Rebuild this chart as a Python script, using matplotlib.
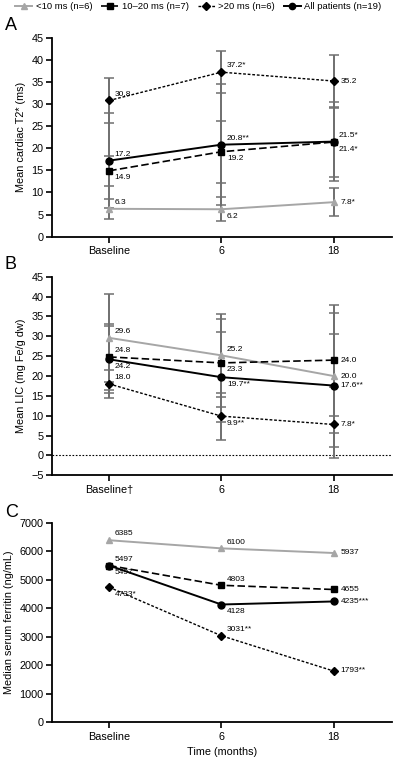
import numpy as np
import matplotlib
matplotlib.use('Agg')
import matplotlib.pyplot as plt

plt.rcParams['font.family'] = ['Liberation Sans', 'DejaVu Sans']

# Data
time_labels = ['Baseline', '6', '18']
time_labels_b = ['Baseline\u2020', '6', '18']
groups = ['<10 ms (n=6)', '10\u201320 ms (n=7)', '>20 ms (n=6)', 'All patients (n=19)']

t2_mean = {
    'lt10': [6.3, 6.2, 7.8],
    'mid': [14.9, 19.2, 21.4],
    'gt20': [30.8, 37.2, 35.2],
    'all': [17.2, 20.8, 21.5],
}
t2_sd = {
    'lt10': [2.2, 2.7, 3.2],
    'mid': [3.4, 7.0, 7.8],
    'gt20': [5.0, 4.8, 5.8],
    'all': [10.8, 13.7, 9.0],
}
t2_text = {
    'lt10': ['6.3', '6.2', '7.8*'],
    'mid': ['14.9', '19.2', '21.4*'],
    'gt20': ['30.8', '37.2*', '35.2'],
    'all': ['17.2', '20.8**', '21.5*'],
}

lic_mean = {
    'lt10': [29.6, 25.2, 20.0],
    'mid': [24.8, 23.3, 24.0],
    'gt20': [18.0, 9.9, 7.8],
    'all': [24.2, 19.7, 17.6],
}
lic_sd = {
    'lt10': [11.0, 10.5, 17.8],
    'mid': [8.2, 11.0, 6.7],
    'gt20': [3.5, 5.9, 2.2],
    'all': [8.5, 11.3, 18.3],
}
lic_text = {
    'lt10': ['29.6', '25.2', '20.0'],
    'mid': ['24.8', '23.3', '24.0'],
    'gt20': ['18.0', '9.9**', '7.8*'],
    'all': ['24.2', '19.7**', '17.6**'],
}

fer_median = {
    'lt10': [6385, 6100, 5937],
    'mid': [5497, 4803, 4655],
    'gt20': [4733, 3031, 1793],
    'all': [5497, 4128, 4235],
}
fer_text = {
    'lt10': ['6385', '6100', '5937'],
    'mid': ['5497', '4803', '4655'],
    'gt20': ['4733*', '3031**', '1793**'],
    'all': ['5497', '4128', '4235***'],
}

keys = ['lt10', 'mid', 'gt20', 'all']
styles = {
    'lt10': dict(color='#a6a6a6', ls='-', marker='^', ms=5, lw=1.4),
    'mid': dict(color='black', ls=(0, (4.5, 2)), marker='s', ms=4.5, lw=1.2),
    'gt20': dict(color='black', ls=(0, (2, 1.3)), marker='D', ms=4.5, lw=1.0),
    'all': dict(color='black', ls='-', marker='o', ms=5, lw=1.4),
}

# label offsets in points (above-right 'ar', below-right 'br', right 'r')
off = {'ar': (4, 2, 'left', 'bottom'), 'br': (4, -2.5, 'left', 'top'),
       'r': (5, 0, 'left', 'center')}

a_pos = {'lt10': ['ar', 'br', 'r'], 'mid': ['br', 'br', 'br'],
         'gt20': ['ar', 'ar', 'r'], 'all': ['ar', 'ar', 'ar']}
b_pos = {'lt10': ['ar', 'ar', 'r'], 'mid': ['ar', 'br', 'r'],
         'gt20': ['ar', 'br', 'r'], 'all': ['br', 'br', 'r']}
c_pos = {'lt10': ['ar', 'ar', 'r'], 'mid': ['br', 'ar', 'r'],
         'gt20': ['br', 'ar', 'r'], 'all': ['ar', 'br', 'r']}

x = np.arange(3)
fig = plt.figure(figsize=(3.97, 7.61), dpi=100)
axA = fig.add_axes([0.131, 0.689, 0.856, 0.2615])
axB = fig.add_axes([0.131, 0.3754, 0.856, 0.261])
axC = fig.add_axes([0.131, 0.0512, 0.856, 0.2619])


def style_axis(ax, ticklabels):
    for s in ['top', 'right']:
        ax.spines[s].set_visible(False)
    ax.spines['left'].set_linewidth(1.3)
    ax.spines['bottom'].set_linewidth(1.3)
    ax.set_xlim(-0.51, 2.52)
    ax.set_xticks(x)
    ax.set_xticklabels(ticklabels, fontsize=7.8)
    ax.tick_params(axis='both', direction='out', width=1.2, length=4, labelsize=7.8, pad=2)
    ax.tick_params(axis='x', pad=3)


def draw(ax, means, sds, texts, pos):
    for k in keys:
        if sds is not None:
            ax.errorbar(x, means[k], yerr=sds[k], fmt='none', ecolor='#6f6f6f',
                        elinewidth=1.4, capsize=3.5, capthick=1.1, zorder=1)
        st = styles[k]
        ax.plot(x, means[k], color=st['color'], ls=st['ls'], lw=st['lw'],
                marker=st['marker'], ms=st['ms'], mfc=st['color'], mec=st['color'],
                zorder=3)
        for xi, yi, t, p in zip(x, means[k], texts[k], pos[k]):
            dx, dy, ha, va = off[p]
            ax.annotate(t, (xi, yi), xytext=(dx, dy), textcoords='offset points',
                        fontsize=6.0, ha=ha, va=va, zorder=4)


draw(axA, t2_mean, t2_sd, t2_text, a_pos)
style_axis(axA, time_labels)
axA.set_ylim(0, 45)
axA.set_yticks(np.arange(0, 46, 5))
axA.set_ylabel('Mean cardiac T2* (ms)', fontsize=7.8, labelpad=4)

draw(axB, lic_mean, lic_sd, lic_text, b_pos)
style_axis(axB, time_labels_b)
axB.set_ylim(-5, 45)
axB.set_yticks(np.arange(-5, 46, 5))
axB.axhline(0, color='black', ls=(0, (1.5, 1.5)), lw=0.8, zorder=0)
axB.set_ylabel('Mean LIC (mg Fe/g dw)', fontsize=7.8, labelpad=4)

draw(axC, fer_median, None, fer_text, c_pos)
style_axis(axC, time_labels)
axC.set_ylim(0, 7000)
axC.set_yticks(np.arange(0, 7001, 1000))
axC.set_ylabel('Median serum ferritin (ng/mL)', fontsize=7.8, labelpad=4)
axC.set_xlabel('Time (months)', fontsize=7.8, labelpad=4)

for ax, letter, yy in [(axA, 'A', 0.967), (axB, 'B', 0.652), (axC, 'C', 0.327)]:
    fig.text(0.012, yy, letter, fontsize=13, va='center', ha='left')

handles = []
for k, g in zip(keys, groups):
    st = styles[k]
    h, = axA.plot([], [], color=st['color'], ls=st['ls'], lw=st['lw'],
                  marker=st['marker'], ms=st['ms'] - 0.5)
    handles.append(h)
fig.legend(handles, groups, loc='upper center', bbox_to_anchor=(0.5, 1.003), ncol=4,
           frameon=False, fontsize=6.8, handlelength=1.8, handletextpad=0.4,
           columnspacing=0.9, borderaxespad=0.1)

fig.savefig('out.png', dpi=100)
